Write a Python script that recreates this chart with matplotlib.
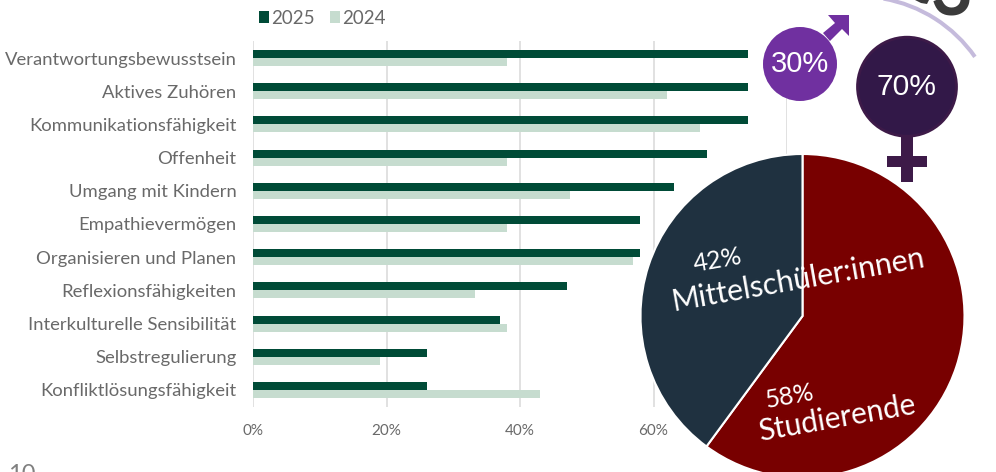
import matplotlib
matplotlib.use("Agg")
import matplotlib.pyplot as plt
from matplotlib.patches import Circle, Rectangle, Polygon, Arc
import numpy as np

plt.rcParams['font.family'] = ['Lato', 'DejaVu Sans']

categories = ["Verantwortungsbewusstsein", "Aktives Zuhören", "Kommunikationsfähigkeit",
              "Offenheit", "Umgang mit Kindern", "Empathievermögen",
              "Organisieren und Planen", "Reflexionsfähigkeiten",
              "Interkulturelle Sensibilität", "Selbstregulierung", "Konfliktlösungsfähigkeit"]
values_2025 = [74.2, 74.2, 74.2, 68, 63, 58, 58, 47, 37, 26, 26]
values_2024 = [38, 62, 67, 38, 47.5, 38, 57, 33.3, 38, 19, 43]
x_ticks = [0, 20, 40, 60, 80]
x_labels = ["0%", "20%", "40%", "60%", "80%"]

# drawn slice shares differ a bit from the printed labels
pie_shares = [60.1, 39.9]
pie_colors = ["#780000", "#1f3140"]

W, H = 996, 472
GREY = "#696969"


def px_axes(left, top, right, bottom, **kw):
    return fig.add_axes([left / W, 1 - bottom / H, (right - left) / W, (bottom - top) / H], **kw)


fig = plt.figure(figsize=(W / 100, H / 100), dpi=100)

# bars
ax = px_axes(253, 41.5, 787, 406.5)
y = np.arange(len(categories))
bar_h = 0.24
b25 = ax.barh(y - bar_h / 2, values_2025, bar_h, color="#004b37", label="2025", zorder=3)
b24 = ax.barh(y + bar_h / 2, values_2024, bar_h, color="#c6dccf", label="2024", zorder=3)
ax.set_xlim(0, 80)
ax.set_ylim(10.5, -0.5)
ax.set_yticks(y)
ax.set_yticklabels(categories, fontsize=13.3, color=GREY)
ax.set_xticks(x_ticks)
ax.set_xticklabels(x_labels, fontsize=11, color=GREY)
ax.tick_params(length=0)
ax.tick_params(axis="y", pad=12)
ax.tick_params(axis="x", pad=12.5)
ax.grid(axis="x", color="#dcdcdc", linewidth=1.2, zorder=0)
ax.set_axisbelow(True)
for s in ax.spines.values():
    s.set_visible(False)
fig.legend(handles=[b25, b24], ncol=2, frameon=False, loc="upper left",
           bbox_to_anchor=(255 / W, 1 - 6 / H), fontsize=13.5, labelcolor=GREY,
           handlelength=0.55, handleheight=0.55, handletextpad=0.1, columnspacing=0.8,
           borderpad=0.2, borderaxespad=0)

# pie, runs off the bottom edge
R = 162
cx, cy = 802.5, 316
pie_ax = px_axes(cx - R, cy - R, cx + R, cy + R)
pie_ax.pie(pie_shares, colors=pie_colors, startangle=90, counterclock=False, radius=1,
           wedgeprops=dict(edgecolor="white", linewidth=1.5))
pie_ax.set_xlim(-1, 1)
pie_ax.set_ylim(-1, 1)

# overlay in pixel coordinates
ov = px_axes(0, 0, W, H)
ov.set_xlim(0, W)
ov.set_ylim(H, 0)
ov.axis("off")
ov.patch.set_alpha(0)

# male sign
MALE = "#7030a0"
ov.add_patch(Polygon([(823, 33), (835, 23), (828, 15), (849, 15), (849, 36), (842, 29), (830, 41)],
                     closed=True, color=MALE, lw=0))
ov.add_patch(Circle((800, 64), 37, color=MALE, lw=0))
ov.text(800.5, 63.5, "30%", color="white", fontsize=21, ha="center", va="center", family="Liberation Sans")

# female sign
FEM = "#3d1a48"
ov.add_patch(Rectangle((901, 135), 12, 47, color=FEM, lw=0))
ov.add_patch(Rectangle((887, 156), 40, 11, color=FEM, lw=0))
ov.add_patch(Circle((907, 86.7), 49.5, facecolor="#321848", edgecolor=FEM, lw=2))
ov.text(907, 87, "70%", color="white", fontsize=21.6, ha="center", va="center", family="Liberation Sans")

# cut off decoration, top right
ov.add_patch(Arc((859, 138), 2 * 141.5, 2 * 141.5, theta1=-80, theta2=-35, color="#c5bbdc", lw=2.9))
ov.text(952, 15, "3", color="#3b3b3b", fontsize=52, fontweight="bold", ha="center", va="baseline")
ov.add_patch(Polygon([(915, 0), (929, 0), (927, 4), (921, 3)], closed=True, color="#3b3b3b", lw=0))

# page number
ov.text(8, 481, "10", color="#808080", fontsize=17, ha="left", va="baseline")

# pie labels
ov.text(718, 260, "42%", color="white", fontsize=18, rotation=10, ha="center", va="center", rotation_mode="anchor")
ov.text(798, 280, "Mittelschüler:innen", color="white", fontsize=21.7, rotation=10, ha="center", va="center", rotation_mode="anchor")
ov.text(790, 396, "58%", color="white", fontsize=18, rotation=10, ha="center", va="center", rotation_mode="anchor")
ov.text(837, 418, "Studierende", color="white", fontsize=21.5, rotation=10, ha="center", va="center", rotation_mode="anchor")

fig.savefig("out.png", dpi=100)
